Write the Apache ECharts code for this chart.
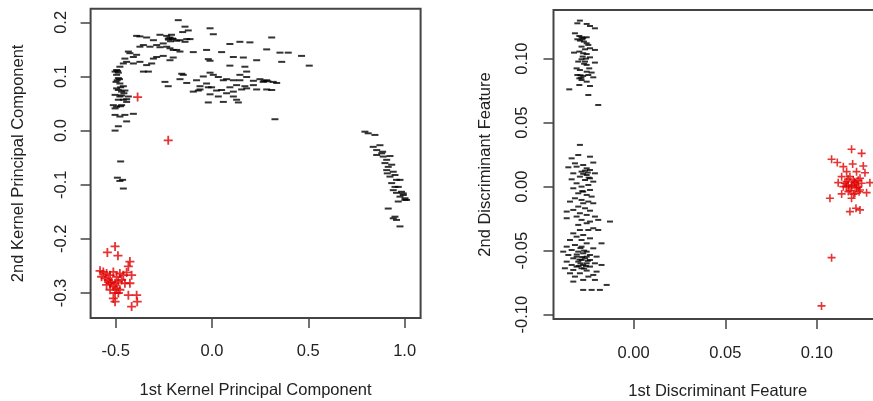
<!DOCTYPE html>
<html>
<head>
<meta charset="utf-8">
<script src="https://cdn.jsdelivr.net/npm/echarts@6/dist/echarts.min.js"></script>
<style>
html,body{margin:0;padding:0;background:#fff;}
#chart{width:873px;height:401px;}
</style>
</head>
<body>
<div id="chart"></div>
<script>
// ---- Tick values ----
var kpcaXTicks = [-0.5, 0.0, 0.5, 1.0];
var kpcaYTicks = [-0.3, -0.2, -0.1, 0.0, 0.1, 0.2];
var ldaXTicks = [0.00, 0.05, 0.10];
var ldaYTicks = [-0.10, -0.05, 0.00, 0.05, 0.10];

// ---- Left panel: Kernel PCA, class 1 (black dashes) ----
var kpcaClass1 = [
  [-0.175,0.204],[-0.140,0.192],[-0.123,0.185],[-0.152,0.182],[-0.010,0.189],[0.007,0.178],
  [-0.391,0.175],[-0.374,0.174],[-0.339,0.172],[-0.304,0.167],[-0.270,0.177],[-0.235,0.175],
  [-0.218,0.172],[-0.201,0.169],[-0.183,0.166],[-0.166,0.167],[-0.131,0.169],[-0.114,0.169],
  [-0.140,0.164],[-0.227,0.170],[-0.210,0.177],[-0.225,0.168],[-0.215,0.165],[-0.205,0.170],
  [-0.434,0.146],[-0.426,0.143],[-0.408,0.136],[-0.391,0.140],[-0.374,0.155],[-0.356,0.158],
  [-0.322,0.155],[-0.287,0.158],[-0.270,0.154],[-0.253,0.161],[-0.235,0.155],[-0.218,0.152],
  [-0.201,0.149],[-0.183,0.149],[-0.166,0.146],[-0.097,0.145],[-0.028,0.149],[0.050,0.145],
  [0.093,0.160],[0.145,0.164],[0.197,0.163],[0.111,0.136],[0.163,0.135],[0.232,0.130],
  [0.284,0.150],[0.310,0.172],[0.353,0.144],[0.396,0.144],[0.465,0.138],[0.505,0.120],
  [0.362,0.127],[-0.495,0.112],[-0.486,0.107],[-0.478,0.118],[-0.460,0.124],[-0.452,0.133],
  [-0.443,0.127],[-0.408,0.124],[-0.374,0.127],[-0.356,0.109],[-0.339,0.121],[-0.313,0.124],
  [-0.304,0.133],[-0.287,0.136],[-0.253,0.138],[-0.218,0.130],[-0.201,0.135],[-0.330,0.109],
  [-0.019,0.132],[-0.010,0.129],[0.093,0.120],[0.171,0.118],[0.180,0.109],
  [-0.157,0.105],[-0.149,0.103],[-0.166,0.095],[-0.131,0.088],[-0.080,0.093],[-0.045,0.100],
  [-0.028,0.087],[-0.010,0.107],[0.007,0.103],[0.033,0.099],[0.059,0.093],[0.076,0.095],
  [0.111,0.093],[0.145,0.093],[0.180,0.099],[0.215,0.092],[0.249,0.095],[0.266,0.090],
  [0.284,0.093],[0.318,0.090],[0.336,0.088],[0.128,0.084],[0.171,0.082],[0.215,0.084],
  [0.232,0.076],[0.284,0.076],[0.310,0.075],[-0.097,0.072],[-0.062,0.076],[-0.019,0.080],
  [0.024,0.074],[0.050,0.075],[0.076,0.069],[0.111,0.072],[0.093,0.080],[0.154,0.076],
  [0.180,0.078],[-0.010,0.067],[0.033,0.063],[0.111,0.063],[0.128,0.057],[-0.019,0.052],
  [0.059,0.053],[0.137,0.052],[-0.071,0.074],[-0.002,0.080],[0.145,0.103],[-0.062,0.082],
  [-0.227,0.082],[-0.244,0.090],[0.327,0.021],[0.270,0.092],[0.290,0.091],
  [-0.503,0.109],[-0.495,0.103],[-0.486,0.097],[-0.498,0.090],[-0.478,0.087],[-0.460,0.082],
  [-0.495,0.078],[-0.486,0.075],[-0.469,0.072],[-0.452,0.074],[-0.503,0.066],[-0.478,0.063],
  [-0.460,0.057],[-0.443,0.058],[-0.512,0.047],[-0.495,0.044],[-0.503,0.041],[-0.469,0.047],
  [-0.443,0.053],[-0.486,0.057],[-0.408,0.031],[-0.503,0.029],[-0.478,0.026],[-0.452,0.029],
  [-0.443,0.017],[-0.486,0.008],[-0.503,0.000],[-0.434,0.063],[-0.457,0.069],[-0.492,0.093],
  [-0.474,0.080],[-0.480,0.095],[-0.490,0.110],[-0.470,0.065],[-0.475,0.045],
  [-0.474,-0.057],[-0.491,-0.087],[-0.464,-0.091],[-0.478,-0.093],[-0.460,-0.107],
  [0.794,-0.002],[0.811,-0.005],[0.846,-0.008],[0.837,-0.030],[0.855,-0.036],[0.872,-0.027],
  [0.881,-0.042],[0.889,-0.048],[0.907,-0.054],[0.924,-0.047],[0.855,-0.045],[0.898,-0.060],
  [0.915,-0.067],[0.933,-0.063],[0.907,-0.073],[0.941,-0.076],[0.950,-0.082],[0.924,-0.085],
  [0.958,-0.091],[0.976,-0.091],[0.933,-0.097],[0.950,-0.104],[0.967,-0.104],[0.984,-0.113],
  [0.993,-0.119],[0.976,-0.122],[1.002,-0.125],[1.010,-0.128],[0.958,-0.115],[0.941,-0.110],
  [0.967,-0.131],[0.915,-0.144],[0.950,-0.159],[0.958,-0.165],[0.941,-0.162],[0.976,-0.177],
  [0.993,-0.116],[1.002,-0.128],[0.886,-0.039],[0.910,-0.079]
];

// ---- Left panel: Kernel PCA, class 2 (red crosses) ----
var kpcaClass2 = [
  [-0.386,0.062],[-0.227,-0.018],
  [-0.503,-0.214],[-0.543,-0.225],[-0.488,-0.231],[-0.426,-0.242],[-0.434,-0.251],[-0.581,-0.259],
  [-0.564,-0.261],[-0.547,-0.264],[-0.529,-0.267],[-0.512,-0.261],[-0.495,-0.270],[-0.478,-0.264],
  [-0.460,-0.267],[-0.443,-0.262],[-0.417,-0.267],[-0.555,-0.273],[-0.538,-0.276],[-0.521,-0.279],
  [-0.503,-0.282],[-0.486,-0.279],[-0.469,-0.276],[-0.452,-0.282],[-0.426,-0.282],[-0.547,-0.285],
  [-0.512,-0.288],[-0.495,-0.291],[-0.478,-0.294],[-0.529,-0.294],[-0.503,-0.300],[-0.486,-0.300],
  [-0.512,-0.310],[-0.434,-0.304],[-0.391,-0.304],[-0.417,-0.325],[-0.388,-0.316],[-0.503,-0.316],
  [-0.529,-0.282],[-0.573,-0.270]
];

// ---- Right panel: LDA, class 1 (black dashes) ----
var ldaClass1 = [
  [-0.0293,0.1297],[-0.0307,0.1276],[-0.0256,0.1271],[-0.0238,0.1255],[-0.0211,0.1237],[-0.0320,0.1198],
  [-0.0296,0.1177],[-0.0284,0.1167],[-0.0256,0.1167],[-0.0307,0.1151],[-0.0293,0.1141],[-0.0271,0.1133],
  [-0.0256,0.1120],[-0.0247,0.1107],[-0.0284,0.1094],[-0.0238,0.1081],[-0.0265,0.1073],[-0.0211,0.1068],
  [-0.0296,0.1055],[-0.0325,0.1047],[-0.0275,0.1042],[-0.0256,0.1036],[-0.0278,0.1016],[-0.0238,0.1010],
  [-0.0284,0.0995],[-0.0302,0.0977],[-0.0265,0.0977],[-0.0211,0.0969],[-0.0256,0.0951],[-0.0311,0.0924],
  [-0.0242,0.0924],[-0.0293,0.0911],[-0.0256,0.0898],[-0.0229,0.0891],[-0.0307,0.0872],[-0.0275,0.0865],
  [-0.0247,0.0872],[-0.0296,0.0846],[-0.0284,0.0833],[-0.0220,0.0854],[-0.0256,0.0820],[-0.0296,0.0794],
  [-0.0238,0.0786],[-0.0351,0.0760],[-0.0247,0.0716],[-0.0193,0.0638],
  [-0.0280,0.1150],[-0.0275,0.1160],[-0.0290,0.0870],[-0.0285,0.0850],[-0.0260,0.1000],[-0.0270,0.0960],
  [-0.0293,0.0326],[-0.0302,0.0247],[-0.0238,0.0234],[-0.0338,0.0221],[-0.0320,0.0182],[-0.0275,0.0169],
  [-0.0220,0.0188],[-0.0311,0.0156],[-0.0256,0.0143],[-0.0356,0.0151],[-0.0238,0.0130],[-0.0284,0.0117],
  [-0.0211,0.0104],[-0.0329,0.0104],[-0.0256,0.0091],[-0.0293,0.0078],[-0.0238,0.0065],[-0.0338,0.0057],
  [-0.0265,0.0052],[-0.0220,0.0039],[-0.0311,0.0026],[-0.0247,0.0013],[-0.0284,0.0000],[-0.0329,-0.0013],
  [-0.0238,-0.0026],[-0.0275,-0.0039],[-0.0302,-0.0052],[-0.0256,-0.0065],[-0.0229,-0.0078],[-0.0320,-0.0091],
  [-0.0284,-0.0104],[-0.0347,-0.0117],[-0.0247,-0.0117],[-0.0275,-0.0130],[-0.0220,-0.0130],[-0.0302,-0.0156],
  [-0.0265,-0.0169],[-0.0329,-0.0182],[-0.0238,-0.0188],[-0.0365,-0.0195],[-0.0293,-0.0208],[-0.0256,-0.0221],
  [-0.0311,-0.0234],[-0.0211,-0.0234],[-0.0365,-0.0247],[-0.0284,-0.0260],[-0.0238,-0.0273],[-0.0193,-0.0260],
  [-0.0129,-0.0273],[-0.0256,-0.0286],[-0.0302,-0.0299],[-0.0220,-0.0325],[-0.0293,-0.0339],[-0.0247,-0.0339],
  [-0.0193,-0.0339],[-0.0329,-0.0365],[-0.0275,-0.0378],[-0.0311,-0.0391],[-0.0238,-0.0404],[-0.0347,-0.0417],
  [-0.0284,-0.0417],[-0.0175,-0.0443],[-0.0256,-0.0443],[-0.0320,-0.0456],[-0.0365,-0.0469],[-0.0284,-0.0469],
  [-0.0220,-0.0482],[-0.0338,-0.0495],[-0.0302,-0.0508],[-0.0256,-0.0508],[-0.0384,-0.0508],[-0.0275,-0.0521],
  [-0.0238,-0.0534],[-0.0356,-0.0534],[-0.0311,-0.0547],[-0.0256,-0.0547],[-0.0202,-0.0547],[-0.0329,-0.0560],
  [-0.0284,-0.0573],[-0.0238,-0.0573],[-0.0365,-0.0586],[-0.0302,-0.0586],[-0.0256,-0.0599],[-0.0211,-0.0599],
  [-0.0338,-0.0612],[-0.0275,-0.0612],[-0.0175,-0.0612],[-0.0311,-0.0625],[-0.0238,-0.0625],[-0.0375,-0.0638],
  [-0.0284,-0.0638],[-0.0329,-0.0651],[-0.0256,-0.0656],[-0.0202,-0.0664],[-0.0347,-0.0677],[-0.0293,-0.0677],
  [-0.0220,-0.0690],[-0.0320,-0.0703],[-0.0247,-0.0703],[-0.0275,-0.0729],[-0.0211,-0.0729],[-0.0329,-0.0742],
  [-0.0147,-0.0768],[-0.0275,-0.0807],[-0.0229,-0.0807],[-0.0184,-0.0807],
  [-0.0265,0.0125],[-0.0250,0.0110],[-0.0275,0.0100],[-0.0245,0.0070],[-0.0280,-0.0035],[-0.0290,-0.0480],
  [-0.0270,-0.0500],[-0.0280,-0.0550],[-0.0265,-0.0560],[-0.0290,-0.0600],[-0.0300,-0.0620],[-0.0270,-0.0640],
  [-0.0250,-0.0580],[-0.0310,-0.0530],[-0.0295,-0.0570],[-0.0260,-0.0620]
];

// ---- Right panel: LDA, class 2 (red crosses) ----
var ldaClass2 = [
  [0.1189,0.0292],[0.1244,0.0260],[0.1080,0.0214],[0.1111,0.0188],[0.1144,0.0156],[0.1195,0.0177],
  [0.1253,0.0161],[0.1162,0.0117],[0.1216,0.0117],[0.1262,0.0109],[0.1135,0.0078],[0.1180,0.0078],
  [0.1235,0.0065],[0.1116,0.0031],[0.1162,0.0039],[0.1207,0.0039],[0.1244,0.0026],[0.1289,0.0031],
  [0.1144,0.0000],[0.1189,0.0000],[0.1225,-0.0005],[0.1171,-0.0039],[0.1207,-0.0052],[0.1135,-0.0057],
  [0.1271,-0.0047],[0.1071,-0.0091],[0.1189,-0.0091],[0.1213,-0.0169],[0.1235,-0.0182],[0.1180,-0.0195],
  [0.1198,0.0052],[0.1216,0.0013],[0.1153,0.0026],[0.1171,0.0013],[0.1235,-0.0026],
  [0.1190,0.0010],[0.1205,0.0030],[0.1215,-0.0010],[0.1180,-0.0030],[0.1225,0.0050],[0.1170,0.0060],
  [0.1230,-0.0040],[0.1200,-0.0060],[0.1160,0.0000],
  [0.1080,-0.0555],[0.1025,-0.0932]
];

var DASH = 'rect';
var PLUS = 'path://M3.2,0H4.8V3.2H8V4.8H4.8V8H3.2V4.8H0V3.2H3.2Z';
var FONT = 'Liberation Sans, Arial, Helvetica, sans-serif';
var TXT = '#222';

function xAxisCfg(gridIndex, min, max, ticks, digits, name, nameGap, labelMargin) {
  return {
    type: 'value', gridIndex: gridIndex, min: min, max: max, position: 'bottom',
    name: name, nameLocation: 'middle', nameGap: nameGap,
    nameTextStyle: { color: TXT, fontSize: 16.5, fontFamily: FONT },
    axisLine: { show: false, onZero: false },
    axisTick: { show: true, inside: false, length: 10, customValues: ticks,
      lineStyle: { color: '#444', width: 1.5 } },
    axisLabel: { show: true, customValues: ticks, margin: labelMargin, color: TXT, fontSize: 16.5, fontFamily: FONT,
      formatter: function (v) { return v.toFixed(digits); } },
    splitLine: { show: false }
  };
}
function yAxisCfg(gridIndex, min, max, ticks, digits, name, nameGap, labelMargin) {
  return {
    type: 'value', gridIndex: gridIndex, min: min, max: max, position: 'left',
    name: name, nameLocation: 'middle', nameGap: nameGap, nameRotate: 90,
    nameTextStyle: { color: TXT, fontSize: 16.5, fontFamily: FONT },
    axisLine: { show: false, onZero: false },
    axisTick: { show: true, inside: false, length: 10, customValues: ticks,
      lineStyle: { color: '#444', width: 1.5 } },
    axisLabel: { show: true, customValues: ticks, rotate: 90, margin: labelMargin, color: TXT, fontSize: 16.5, fontFamily: FONT,
      formatter: function (v) { return v.toFixed(digits); } },
    splitLine: { show: false }
  };
}

var chart = echarts.init(document.getElementById('chart'), null, { renderer: 'canvas' });
chart.setOption({
  backgroundColor: '#ffffff',
  animation: false,
  grid: [
    { left: 90.6, top: 8.8, width: 330, height: 309.1, show: true, borderColor: '#444', borderWidth: 2,
      backgroundColor: 'transparent', containLabel: false, outerBoundsMode: 'none' },
    { left: 553.5, top: 10, width: 328.5, height: 309.1, show: true, borderColor: '#444', borderWidth: 2,
      backgroundColor: 'transparent', containLabel: false, outerBoundsMode: 'none' }
  ],
  xAxis: [
    xAxisCfg(0, -0.63, 1.083, kpcaXTicks, 1, '1st Kernel Principal Component', 64, 25),
    xAxisCfg(1, -0.0437, 0.1355, ldaXTicks, 2, '1st Discriminant Feature', 64, 26)
  ],
  yAxis: [
    yAxisCfg(0, -0.346, 0.225, kpcaYTicks, 1, '2nd Kernel Principal Component', 64, 21),
    yAxisCfg(1, -0.1035, 0.138, ldaYTicks, 2, '2nd Discriminant Feature', 60, 23)
  ],
  series: [
    { type: 'scatter', xAxisIndex: 0, yAxisIndex: 0, data: kpcaClass1, symbol: DASH, symbolSize: [7, 2],
      itemStyle: { color: '#000' }, silent: true },
    { type: 'scatter', xAxisIndex: 0, yAxisIndex: 0, data: kpcaClass2, symbol: PLUS, symbolSize: 9,
      itemStyle: { color: '#e00000' }, silent: true },
    { type: 'scatter', xAxisIndex: 1, yAxisIndex: 1, data: ldaClass1, symbol: DASH, symbolSize: [6, 2],
      itemStyle: { color: '#000' }, silent: true },
    { type: 'scatter', xAxisIndex: 1, yAxisIndex: 1, data: ldaClass2, symbol: PLUS, symbolSize: 8,
      itemStyle: { color: '#e00000' }, silent: true }
  ]
});
</script>
</body>
</html>
